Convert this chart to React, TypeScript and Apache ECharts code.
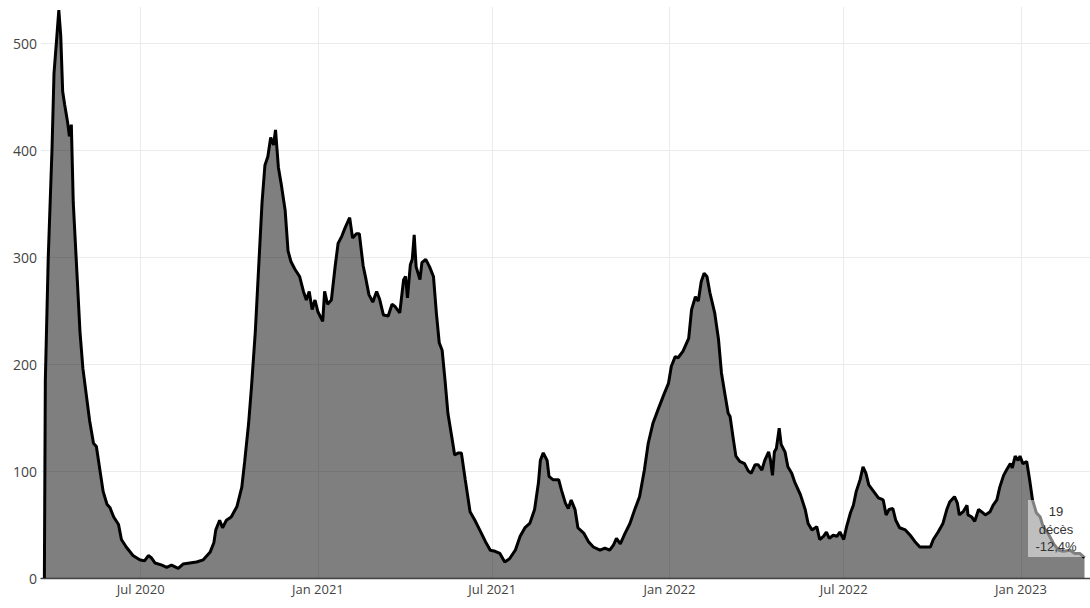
import React, { useEffect, useRef } from "react";
import * as echarts from "echarts";

// Days counted from 2020-03-01, and the matching value of daily deaths
const days: number[] = [
  22, 23, 26, 30, 32, 35, 37, 39, 41, 43,
  46, 48, 50, 52, 56, 59, 62, 66, 69, 73,
  76, 80, 83, 87, 90, 94, 99, 102, 107, 114,
  121, 126, 130, 133, 137, 144, 149, 154, 161, 166,
  173, 180, 187, 194, 198, 200, 204, 207, 211, 216,
  222, 227, 230, 234, 237, 241, 244, 248, 251, 254,
  257, 260, 262, 265, 268, 272, 275, 278, 282, 287,
  291, 294, 297, 300, 303, 306, 311, 313, 316, 320,
  324, 327, 331, 334, 339, 342, 346, 349, 353, 356,
  359, 363, 367, 370, 374, 379, 383, 386, 391, 395,
  397, 399, 402, 404, 406, 408, 412, 414, 418, 422,
  426, 429, 432, 435, 438, 441, 445, 448, 452, 455,
  459, 464, 469, 474, 480, 485, 490, 495, 500, 505,
  511, 516, 521, 526, 531, 535, 537, 540, 544, 546,
  550, 556, 559, 563, 566, 569, 573, 576, 582, 587,
  592, 599, 604, 609, 613, 616, 620, 625, 630, 635,
  640, 645, 649, 654, 659, 665, 670, 673, 677, 680,
  685, 691, 694, 698, 701, 704, 707, 710, 713, 718,
  722, 725, 729, 732, 734, 737, 740, 744, 749, 753,
  756, 760, 763, 767, 770, 774, 776, 778, 780, 782,
  785, 787, 791, 794, 798, 801, 807, 812, 815, 819,
  824, 827, 831, 834, 837, 841, 845, 848, 852, 855,
  859, 862, 865, 869, 872, 875, 878, 883, 888, 893,
  896, 899, 903, 906, 910, 916, 921, 926, 931, 936,
  942, 945, 950, 955, 959, 962, 967, 970, 972, 976,
  980, 981, 985, 988, 992, 995, 999, 1004, 1007, 1011,
  1014, 1018, 1021, 1025, 1027, 1030, 1033, 1035, 1038, 1042,
  1045, 1048, 1052, 1056, 1059, 1064, 1070, 1075, 1080, 1087,
  1092, 1097, 1102,
];

const deaths: number[] = [
  0, 185, 299, 403, 472, 507, 531, 507, 455, 443,
  427, 413, 424, 351, 282, 230, 196, 168, 147, 126,
  123, 99, 81, 69, 66, 57, 50, 36, 29, 21,
  17, 16, 21, 19, 14, 12, 10, 12, 9, 13,
  14, 15, 17, 24, 33, 45, 54, 47, 54, 57,
  67, 85, 109, 144, 178, 230, 282, 351, 386, 394,
  412, 405, 419, 384, 368, 344, 306, 296, 289, 282,
  268, 260, 268, 251, 260, 249, 240, 268, 256, 260,
  292, 313, 320, 327, 337, 318, 322, 322, 292, 279,
  265, 258, 268, 261, 246, 245, 256, 254, 248, 279,
  282, 262, 293, 298, 321, 291, 279, 295, 298, 291,
  282, 248, 220, 213, 185, 154, 132, 115, 117, 117,
  92, 62, 54, 45, 34, 26, 25, 23, 15, 18,
  26, 39, 47, 51, 64, 89, 110, 117, 110, 95,
  92, 92, 82, 70, 65, 73, 64, 47, 42, 34,
  29, 26, 28, 26, 31, 37, 32, 42, 51, 64,
  76, 101, 126, 145, 157, 171, 182, 198, 207, 206,
  212, 224, 251, 263, 259, 277, 285, 282, 267, 248,
  223, 192, 170, 154, 151, 132, 114, 109, 107, 100,
  98, 106, 106, 101, 110, 118, 110, 96, 118, 121,
  140, 125, 118, 104, 98, 90, 78, 64, 51, 45,
  48, 36, 39, 43, 37, 40, 39, 43, 36, 48,
  61, 68, 81, 92, 104, 98, 87, 81, 75, 73,
  59, 64, 65, 54, 47, 45, 40, 34, 29, 29,
  29, 36, 43, 51, 64, 71, 76, 70, 59, 62,
  68, 59, 57, 53, 64, 62, 59, 62, 68, 73,
  85, 96, 101, 107, 103, 114, 110, 114, 107, 109,
  92, 73, 61, 57, 48, 42, 32, 26, 25, 26,
  23, 23, 19,
];

const xTickDates = ["2020-07-01", "2021-01-01", "2021-07-01", "2022-01-01", "2022-07-01", "2023-01-01"];
const xTickLabels = ["Jul 2020", "Jan 2021", "Jul 2021", "Jan 2022", "Jul 2022", "Jan 2023"];
const yTicks = [0, 100, 200, 300, 400, 500];
const annotationLines = ["19", "décès", "-12,4%"];

const DAY0 = Date.UTC(2020, 2, 1);
const isoToDay = (s: string) => {
  const [y, m, d] = s.split("-").map(Number);
  return Math.round((Date.UTC(y, m - 1, d) - DAY0) / 86400000);
};

export default function App() {
  const ref = useRef<HTMLDivElement>(null);
  useEffect(() => {
    if (!ref.current) return;
    const chart = echarts.init(ref.current, null, { renderer: "svg" });
    const tickDays = xTickDates.map(isoToDay);
    const seriesData = days.map((d, i) => [d, deaths[i]]);
    chart.setOption({
      animation: false,
      grid: { left: 41, right: 0, top: 7, bottom: 30, outerBoundsMode: "none", containLabel: false },
      xAxis: {
        type: "value",
        min: 18.5,
        max: 1107.7,
        axisLine: { show: true, onZero: false, lineStyle: { color: "#444", width: 1.3 } },
        axisTick: { show: false, customValues: tickDays },
        axisLabel: {
          customValues: tickDays,
          formatter: (v: number) => {
            const i = tickDays.indexOf(Math.round(v));
            return i >= 0 ? xTickLabels[i] : "";
          },
          color: "#444",
          fontFamily: "Open Sans",
          fontSize: 13,
          margin: 4,
        },
        splitLine: { show: true, lineStyle: { color: "#ebebeb", width: 1 } },
      },
      yAxis: {
        type: "value",
        min: 0,
        max: 534,
        axisLine: { show: false },
        axisTick: { show: false, customValues: yTicks },
        axisLabel: {
          customValues: yTicks,
          color: "#444",
          fontFamily: "Open Sans",
          fontSize: 14,
          margin: 4,
        },
        splitLine: { show: true, lineStyle: { color: "#ebebeb", width: 1 } },
      },
      series: [
        {
          type: "line",
          data: seriesData,
          symbol: "none",
          z: 2,
          lineStyle: { color: "#000", width: 3 },
          areaStyle: { color: "#000", opacity: 0.5, origin: "start" },
        },
      ],
      graphic: [
        {
          type: "rect",
          z: 100,
          shape: { x: 1028, y: 500, width: 57, height: 57 },
          style: { fill: "rgba(255,255,255,0.5)" },
        },
        {
          type: "text",
          z: 101,
          x: 1056,
          y: 529,
          style: {
            text: annotationLines.join("\n"),
            align: "center",
            verticalAlign: "middle",
            fontFamily: "Liberation Sans",
            fontSize: 13,
            lineHeight: 17.5,
            fill: "#333",
          },
        },
      ],
    });
    return () => chart.dispose();
  }, []);
  return (
    <div
      ref={ref}
      style={{ position: "absolute", left: 0, top: 0, width: 1090, height: 608, background: "#fff" }}
    />
  );
}
